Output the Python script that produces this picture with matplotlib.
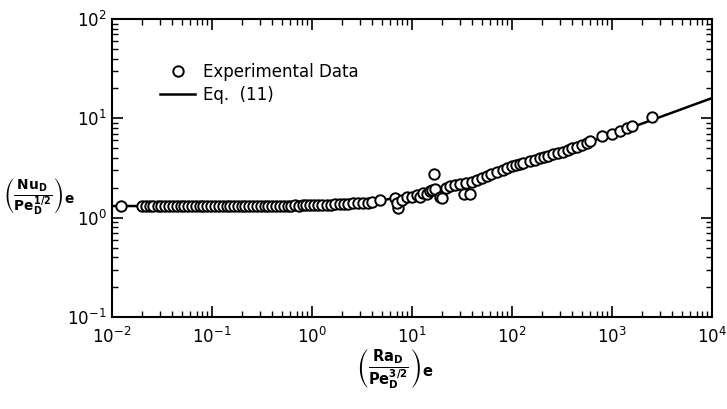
import numpy as np
import matplotlib.pyplot as plt

x_exp = [0.0123, 0.020, 0.022, 0.024, 0.026, 0.029, 0.031, 0.034, 0.037, 0.041,
         0.045, 0.049, 0.053, 0.058, 0.063, 0.069, 0.075, 0.082, 0.090, 0.098,
         0.107, 0.117, 0.128, 0.140, 0.152, 0.166, 0.182, 0.198, 0.216, 0.236,
         0.258, 0.282, 0.308, 0.336, 0.367, 0.40, 0.44, 0.48, 0.52, 0.57,
         0.62, 0.68, 0.74, 0.81, 0.88, 0.96, 1.05, 1.15, 1.26, 1.4,
         1.55, 1.7, 1.9, 2.1, 2.3, 2.6, 2.9, 3.2, 3.6, 4.0,
         4.8, 6.8, 7.2, 7.0, 8.0, 8.9, 10.0, 11.2, 12.0, 13.0,
         14.0, 15.0, 16.0, 16.6, 17.0, 19.0, 20.0, 22.0, 24.0, 27.0,
         30.0, 33.0, 38.0, 35.0, 40.0, 45.0, 50.0, 56.0, 62.0, 70.0,
         81.0, 90.0, 100.0, 110.0, 120.0, 130.0, 150.0, 170.0, 190.0, 210.0,
         230.0, 260.0, 290.0, 320.0, 360.0, 400.0, 450.0, 500.0, 560.0, 600.0,
         800.0, 1000.0, 1200.0, 1400.0, 1600.0, 2500.0]
y_exp = [1.32, 1.30, 1.30, 1.30, 1.31, 1.30, 1.31, 1.30, 1.31, 1.30,
         1.31, 1.31, 1.30, 1.31, 1.31, 1.30, 1.31, 1.31, 1.30, 1.31,
         1.31, 1.30, 1.31, 1.31, 1.31, 1.30, 1.31, 1.31, 1.31, 1.30,
         1.31, 1.31, 1.32, 1.31, 1.31, 1.32, 1.32, 1.31, 1.32, 1.32,
         1.32, 1.33, 1.32, 1.33, 1.33, 1.33, 1.34, 1.34, 1.35, 1.35,
         1.35, 1.36, 1.37, 1.37, 1.38, 1.39, 1.40, 1.41, 1.40, 1.43,
         1.51, 1.57, 1.24, 1.40, 1.50, 1.60, 1.62, 1.68, 1.60, 1.77,
         1.75, 1.85, 1.90, 2.72, 1.95, 1.60, 1.58, 2.00, 2.10, 2.15,
         2.20, 1.75, 1.75, 2.25, 2.30, 2.40, 2.50, 2.65, 2.75, 2.85,
         3.00, 3.15, 3.30, 3.40, 3.50, 3.55, 3.70, 3.80, 3.95, 4.10,
         4.20, 4.35, 4.50, 4.60, 4.80, 5.00, 5.15, 5.40, 5.70, 5.90,
         6.60, 7.00, 7.50, 8.00, 8.40, 10.2]

# Eq. (11) curve
x_eq = [0.01, 0.1, 1.0, 3.0, 5.0, 10.0, 20.0, 50.0, 100.0, 200.0, 500.0, 1000.0, 2500.0, 10000.0]
y_eq = [1.31, 1.31, 1.34, 1.42, 1.50, 1.68, 1.98, 2.55, 3.25, 4.05, 5.45, 6.90, 9.60, 16.0]

plt.rcParams['mathtext.fontset'] = 'dejavusans'

fig = plt.figure(figsize=(7.27, 4.09), dpi=100)
ax = fig.add_axes([112/727, 1 - 317/409, 600/727, 298/409])

ax.plot(x_eq, y_eq, color='k', lw=1.8, label='Eq.  (11)', zorder=2)
ax.plot(x_exp, y_exp, ls='none', marker='o', ms=7.5, mfc='white', mec='k', mew=1.4,
        label='Experimental Data', zorder=3)

ax.set_xscale('log')
ax.set_yscale('log')
ax.set_xlim(1e-2, 1e4)
ax.set_ylim(1e-1, 1e2)

for s in ax.spines.values():
    s.set_linewidth(1.5)
ax.tick_params(which='both', direction='in', top=True, right=True, labelsize=12)
ax.tick_params(which='major', length=8, width=1.2)
ax.tick_params(axis='y', which='major', pad=4)
ax.tick_params(axis='x', which='major', pad=7)
ax.tick_params(which='minor', length=4, width=1.0)

h, l = ax.get_legend_handles_labels()
fig.legend(h[::-1], l[::-1], loc='upper left', bbox_to_anchor=(160/727, 1 - 63/409),
           frameon=False, fontsize=12, handlelength=2.1, handletextpad=0.5,
           labelspacing=0.3, borderpad=0, borderaxespad=0)

fig.text(0.004, 1 - 196/409,
         r'$\left(\frac{\mathbf{Nu_D}}{\mathbf{Pe_D^{1/2}}}\right)_{\mathbf{e}}$',
         fontsize=14, va='center', ha='left')
fig.text(395/727, 1 - 370/409,
         r'$\left(\frac{\mathbf{Ra_D}}{\mathbf{Pe_D^{3/2}}}\right)_{\mathbf{e}}$',
         fontsize=15, va='center', ha='center')

fig.savefig('out.png', dpi=100)
